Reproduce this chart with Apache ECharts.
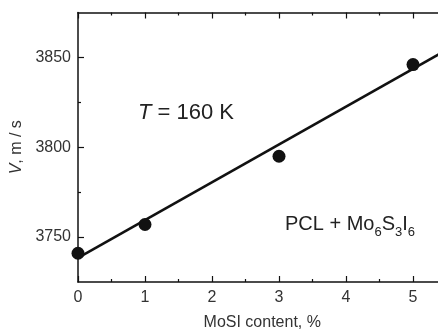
<!DOCTYPE html>
<html><head><meta charset="utf-8">
<script src="https://cdn.jsdelivr.net/npm/echarts@6/dist/echarts.min.js"></script>
<style>html,body{margin:0;padding:0;background:#fff}#c{width:438px;height:332px}</style>
</head><body><div id="c"></div>
<script>
const pointX = [0, 1, 3, 5];
const pointV = [3741, 3757, 3795, 3846];
const fitX = [0, 5.5];
const fitV = [3738.4, 3854.2];
const yMajorTicks = [3750, 3800, 3850];
const yMinorTicks = [3775, 3825];
const xTicks = [0, 1, 2, 3, 4, 5];

const chart = echarts.init(document.getElementById('c'), null, {renderer: 'canvas'});
const font = 'Liberation Sans, Arial, sans-serif';
const axisCol = '#111';
const grid = {left: 78, top: 12.5, right: -8.5, bottom: 50, containLabel: false, outerBoundsMode: 'none'};
chart.setOption({
  animation: false,
  grid: grid,
  xAxis: [{
    type: 'value', min: 0, max: 5.5, interval: 1, position: 'bottom',
    axisLine: {show: true, lineStyle: {color: axisCol, width: 1.5}},
    axisTick: {show: true, inside: true, length: 6, lineStyle: {color: axisCol, width: 1.2}},
    minorTick: {show: true, splitNumber: 2, length: 3, lineStyle: {color: axisCol, width: 1.2}},
    splitLine: {show: false},
    axisLabel: {color: '#333', fontSize: 16, fontFamily: font, margin: 8,
      formatter: v => xTicks.indexOf(v) >= 0 ? String(v) : ''},
    name: 'MoSI content, %', nameLocation: 'middle', nameGap: 33,
    nameTextStyle: {color: '#333', fontSize: 16, fontFamily: font}
  }, {
    type: 'value', min: 0, max: 5.5, interval: 1, position: 'top',
    axisLine: {show: true, lineStyle: {color: axisCol, width: 1.5}},
    axisTick: {show: true, inside: true, length: 6, lineStyle: {color: axisCol, width: 1.2}},
    minorTick: {show: true, splitNumber: 2, length: 3, lineStyle: {color: axisCol, width: 1.2}},
    splitLine: {show: false}, axisLabel: {show: false}
  }],
  yAxis: [{
    type: 'value', min: 3725, max: 3875, position: 'left',
    axisLine: {show: true, lineStyle: {color: axisCol, width: 1.5}},
    axisTick: {show: true, inside: true, length: 6, customValues: yMajorTicks, lineStyle: {color: axisCol, width: 1.2}},
    axisLabel: {show: true, customValues: yMajorTicks, color: '#333', fontSize: 16, fontFamily: font, margin: 7,
      formatter: v => String(v)},
    splitLine: {show: false},
    name: '{i|V}, m / s', nameLocation: 'middle', nameGap: 52, nameRotate: 90,
    nameTextStyle: {color: '#333', fontSize: 16, fontFamily: font,
      rich: {i: {fontStyle: 'italic', fontSize: 16, fontFamily: font, color: '#333'}}}
  }, {
    type: 'value', min: 3725, max: 3875, position: 'left',
    axisLine: {show: false},
    axisTick: {show: true, inside: true, length: 3, customValues: yMinorTicks, lineStyle: {color: axisCol, width: 1.2}},
    axisLabel: {show: false}, splitLine: {show: false}
  }],
  graphic: [{
    type: 'text', left: 138, top: 102, z: 10,
    style: {
      text: '{i|T} = 160 K', font: '22px ' + font, fill: '#222',
      rich: {i: {fontStyle: 'italic', fontSize: 22, fontFamily: font, fill: '#222'}}
    }
  }, {
    type: 'text', left: 285, top: 214, z: 10,
    style: {
      text: '{b|PCL + Mo}{s|6}{b|S}{s|3}{b|I}{s|6}', fill: '#222',
      rich: {
        b: {fontSize: 20, fontFamily: font, fill: '#222', lineHeight: 30, verticalAlign: 'middle'},
        s: {fontSize: 13, fontFamily: font, fill: '#222', lineHeight: 13, verticalAlign: 'bottom'}
      }
    }
  }],
  series: [{
    type: 'line', xAxisIndex: 0, yAxisIndex: 0,
    data: fitX.map((x, i) => [x, fitV[i]]),
    showSymbol: false, symbol: 'none',
    lineStyle: {color: '#111', width: 2.6}, z: 2
  }, {
    type: 'scatter', xAxisIndex: 0, yAxisIndex: 0,
    data: pointX.map((x, i) => [x, pointV[i]]),
    symbol: 'circle', symbolSize: 13,
    itemStyle: {color: '#111', opacity: 1}, z: 3, clip: false
  }]
});
</script></body></html>
